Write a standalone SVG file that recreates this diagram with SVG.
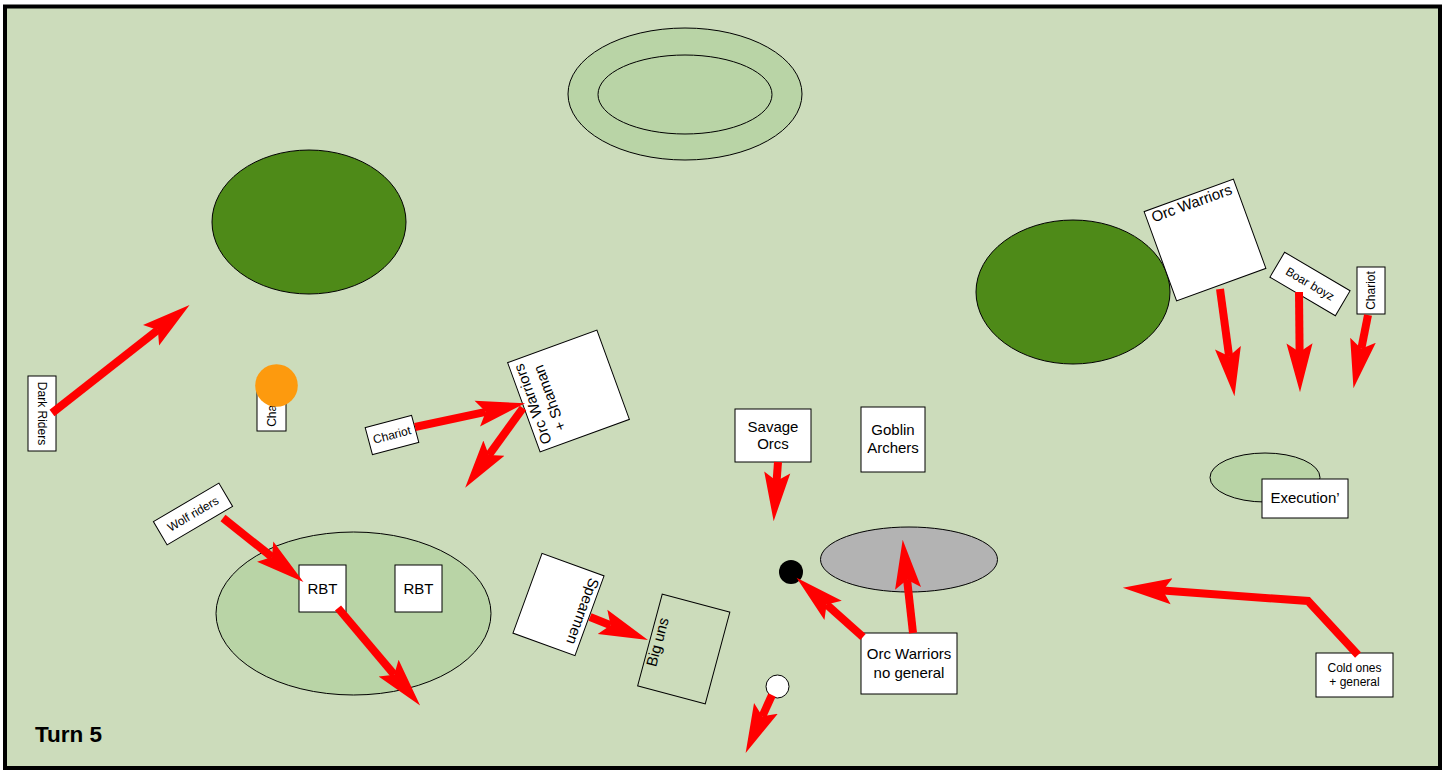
<svg xmlns="http://www.w3.org/2000/svg" width="1448" height="772" viewBox="0 0 1448 772">
<defs>
<style>
.box{fill:#fff;stroke:#000;stroke-width:1}
.ter{stroke:#000;stroke-width:1}
.t12{font-family:"Liberation Sans",Arial,sans-serif;font-size:12px;fill:#000;text-anchor:middle}
.t15{font-family:"Liberation Sans",Arial,sans-serif;font-size:15px;fill:#000;text-anchor:middle}
.arr{fill:none;stroke:#ff0000;stroke-width:8;stroke-linejoin:miter;marker-end:url(#head)}
</style>
<marker id="head" markerUnits="userSpaceOnUse" markerWidth="50" markerHeight="30" viewBox="0 -13 46 26" refX="8" refY="0" orient="auto">
<path d="M0,-12 L45,0 L0,12 L8,0 Z" fill="#ff0000"/>
</marker>
</defs>
<rect x="5" y="6.5" width="1435" height="761.5" fill="#ccdcbb" stroke="#000" stroke-width="4"/>

<g id="terrain">
<ellipse cx="685" cy="94" rx="117" ry="66" fill="#b9d4a6" class="ter"/>
<ellipse cx="685" cy="94.5" rx="87" ry="39.5" fill="#b9d4a6" class="ter"/>
<ellipse cx="309" cy="222" rx="97" ry="72" fill="#4e8a18" class="ter"/>
<ellipse cx="1073" cy="292" rx="97" ry="72" fill="#4e8a18" class="ter"/>
<ellipse cx="353.5" cy="613.5" rx="137.5" ry="81.5" fill="#b9d4a6" class="ter"/>
<ellipse cx="909" cy="559.5" rx="88.5" ry="32.5" fill="#b3b3b3" class="ter"/>
<ellipse cx="1265" cy="477.5" rx="55" ry="24.5" fill="#b9d4a6" class="ter"/>
</g>

<g id="dark-riders">
<rect class="box" x="28" y="376" width="28" height="75"/>
<text class="t12" transform="translate(42,413.5) rotate(90)" y="4">Dark Riders</text>
</g>
<g id="chariot-left">
<rect class="box" x="257" y="384" width="29" height="47"/>
<text class="t12" transform="translate(271.5,407.5) rotate(-90)" y="4">Chariot</text>
</g>
<g id="orange-marker">
<circle cx="276.5" cy="385.5" r="21.3" fill="#fd9a0e"/>
</g>
<g id="chariot-mid" transform="translate(392,435) rotate(-15)">
<rect class="box" x="-24" y="-14" width="48" height="28"/>
<text class="t12" y="4">Chariot</text>
</g>
<g id="orc-warriors-shaman" transform="translate(568.5,391) rotate(-110)">
<rect class="box" x="-47.5" y="-47.5" width="95" height="95"/>
<text class="t15" y="-33">Orc Warriors</text>
<text class="t15" y="-15">+ Shaman</text>
</g>
<g id="wolf-riders" transform="translate(193,514) rotate(-30.5)">
<rect class="box" x="-38" y="-13.5" width="76" height="27"/>
<text class="t12" y="4">Wolf riders</text>
</g>
<g id="rbt-1">
<rect class="box" x="299" y="565" width="47" height="47"/>
<text class="t15" x="322.5" y="594">RBT</text>
</g>
<g id="rbt-2">
<rect class="box" x="395" y="565" width="47" height="47"/>
<text class="t15" x="418.5" y="594">RBT</text>
</g>
<g id="spearmen" transform="translate(558.5,604.5) rotate(110)">
<rect class="box" x="-42.5" y="-33" width="85" height="66"/>
<text class="t15" x="-2" y="-20">Spearmen</text>
</g>
<g id="big-uns" transform="translate(683.75,649) rotate(-75)">
<rect x="-47.5" y="-35" width="95" height="70" fill="none" stroke="#000" stroke-width="1"/>
<text class="t15" y="-22">Big uns</text>
</g>
<g id="savage-orcs">
<rect class="box" x="735" y="409" width="76" height="53"/>
<text class="t15" x="773" y="432">Savage</text>
<text class="t15" x="773" y="449">Orcs</text>
</g>
<g id="goblin-archers">
<rect class="box" x="861" y="407" width="64" height="65"/>
<text class="t15" x="893" y="435">Goblin</text>
<text class="t15" x="893" y="453">Archers</text>
</g>
<g id="black-marker">
<circle cx="791" cy="572" r="12" fill="#000"/>
</g>
<g id="white-marker">
<circle cx="777.5" cy="686.5" r="11.5" fill="#fff" stroke="#000" stroke-width="1"/>
</g>
<g id="orc-warriors-no-general">
<rect class="box" x="861" y="633" width="96" height="61"/>
<text class="t15" x="909" y="659">Orc Warriors</text>
<text class="t15" x="909" y="678">no general</text>
</g>
<g id="orc-warriors-right" transform="translate(1205,240) rotate(-20)">
<rect class="box" x="-47.5" y="-47.5" width="95" height="95"/>
<text class="t15" y="-34">Orc Warriors</text>
</g>
<g id="boar-boyz" transform="translate(1310,284) rotate(30.5)">
<rect class="box" x="-38" y="-14.5" width="76" height="29"/>
<text class="t12" y="4">Boar boyz</text>
</g>
<g id="chariot-right">
<rect class="box" x="1357" y="267" width="28" height="47"/>
<text class="t12" transform="translate(1371,290.5) rotate(-90)" y="4">Chariot</text>
</g>
<g id="execution">
<rect class="box" x="1262" y="479" width="86" height="39"/>
<text class="t15" x="1305" y="503">Execution’</text>
</g>
<g id="cold-ones">
<rect class="box" x="1316" y="653" width="77" height="44"/>
<text class="t12" x="1354.5" y="672">Cold ones</text>
<text class="t12" x="1354.5" y="686">+ general</text>
</g>

<g id="connectors">
<path class="arr" d="M52,413 L157.9,329.9"/>
<path class="arr" d="M415,427 L485.8,411.8"/>
<path class="arr" d="M523,408 L488.8,455.1"/>
<path class="arr" d="M223,518 L272,557"/>
<path class="arr" d="M338,608 L394.2,674.7"/>
<path class="arr" d="M590,617 L610.6,625.2"/>
<path class="arr" d="M778,462 L776.6,481.1"/>
<path class="arr" d="M863,637 L826.6,604.6"/>
<path class="arr" d="M913,633 L907.1,579.7"/>
<path class="arr" d="M772,695 L762.3,716.3"/>
<path class="arr" d="M1220,289 L1229.1,356.3"/>
<path class="arr" d="M1299,292 L1299.6,352"/>
<path class="arr" d="M1368,315 L1361.3,348.7"/>
<path class="arr" d="M1358,655 L1308,601 L1162.9,590.6"/>
</g>

<g id="label">
<text x="35" y="742" font-family="'Liberation Sans',Arial,sans-serif" font-size="22.5" font-weight="bold" fill="#000">Turn 5</text>
</g>
</svg>
